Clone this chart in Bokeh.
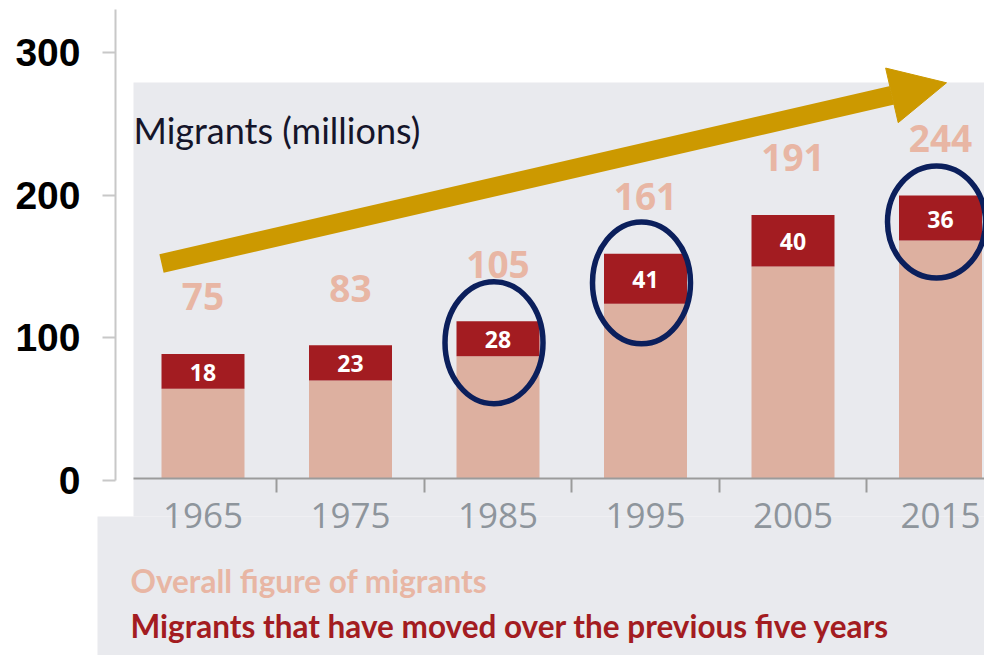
from bokeh.plotting import figure
from bokeh.models import (Range1d, LinearAxis, FixedTicker, Arrow, NormalHead,
                          Label, ColumnDataSource, Grid)
from bokeh.embed import file_html
from bokeh.resources import INLINE
from bokeh.core.properties import value

# ---------------- data ----------------
years = ["1965", "1975", "1985", "1995", "2005", "2015"]
overall_labels = [75, 83, 105, 161, 191, 244]
recent_labels = [18, 23, 28, 41, 40, 36]
# bar extents as drawn, read against the left axis
overall_bar_top = [64.3, 70.1, 87.2, 123.9, 150.1, 168.3]
recent_bar_top = [88.8, 94.9, 111.7, 159.0, 186.3, 199.9]
highlighted = ["1985", "1995", "2015"]
y_ticks = [0, 100, 200, 300]
unit_title = "Migrants (millions)"
legend_overall = "Overall figure of migrants"
legend_recent = "Migrants that have moved over the previous five years"

# ---------------- layout (pixels of the page) ----------------
W, H, PAGE = 984, 655, 0
CAT_PX, FIRST_CENTER_PX = 147.5, 202.5
Y0_PX, PX_PER_UNIT = 480.0, 1.4257


def xd(px):
    return (px - FIRST_CENTER_PX) / CAT_PX


def yd(px):
    return (Y0_PX - px) / PX_PER_UNIT


GREY_BG = "#e9eaee"
LIGHT = "#ddb0a0"
DARK = "#a31c21"
LABEL_PINK = "#e8b6a4"
NAVY = "#0b1f5c"
GOLD = "#cc9900"
YEAR_GREY = "#8e959c"

xs = list(range(len(years)))
base = yd(477.7)

p = figure(width=W, height=H, output_backend="svg", toolbar_location=None,
           x_range=Range1d(xd(PAGE), xd(PAGE + W)),
           y_range=Range1d(yd(PAGE + H), yd(PAGE)),
           x_axis_location=None, y_axis_location=None,
           min_border=0, outline_line_color=None,
           background_fill_color="white", border_fill_color="white")
p.center = [r for r in p.center if not isinstance(r, Grid)]

# grey panel of the inset chart
p.quad(left=[xd(133), xd(97)], right=[xd(1000), xd(1000)],
       top=[yd(82), yd(516)], bottom=[yd(516), yd(700)],
       fill_color=GREY_BG, line_color=None)

src = ColumnDataSource(dict(
    x=xs, year=years,
    light=overall_bar_top, dark=recent_bar_top,
    mid=[(a + b) / 2 for a, b in zip(overall_bar_top, recent_bar_top)],
    overall=[str(v) for v in overall_labels],
    recent=[str(v) for v in recent_labels],
))

bar_w = 83 / CAT_PX
p.vbar(x="x", bottom=base, top="light", width=bar_w, source=src,
       fill_color=LIGHT, line_color=None)
p.vbar(x="x", bottom="light", top="dark", width=bar_w, source=src,
       fill_color=DARK, line_color=None)

p.text(x="x", y="dark", text="overall", source=src, y_offset=-57,
       text_align="center", text_baseline="middle",
       text_font=value("Open Sans"), text_font_style="bold",
       text_font_size="37px", text_color=LABEL_PINK)
p.text(x="x", y="mid", text="recent", source=src, y_offset=1,
       text_align="center", text_baseline="middle",
       text_font=value("Open Sans"), text_font_style="bold",
       text_font_size="23px", text_color="white")

# highlight ellipses
hi = [years.index(y) for y in highlighted]
p.ellipse(x=[xs[i] - 4 / CAT_PX for i in hi],
          y=[(overall_bar_top[i] + recent_bar_top[i]) / 2 - 4 / PX_PER_UNIT for i in hi],
          width=98, height=[122, 122, 112],
          width_units="screen", height_units="screen",
          fill_color=None, line_color=NAVY, line_width=5.5)

# trend arrow
p.add_layout(Arrow(end=NormalHead(size=56, fill_color=GOLD, line_color=GOLD, line_width=1),
                   x_start=xd(161), y_start=yd(263), x_end=xd(946), y_end=yd(82.3),
                   line_color=GOLD, line_width=19))

# outer y axis
yaxis = LinearAxis(ticker=FixedTicker(ticks=y_ticks), fixed_location=xd(115),
                   bounds=(0, yd(9)),
                   axis_line_color="#c8c8c8", axis_line_width=2,
                   major_tick_line_color="#c8c8c8", major_tick_line_width=2,
                   major_tick_in=0, major_tick_out=13,
                   minor_tick_line_color=None,
                   major_label_text_font="Liberation Sans",
                   major_label_text_font_style="bold",
                   major_label_text_font_size="39px",
                   major_label_text_color="black",
                   major_label_standoff=22)
p.add_layout(yaxis, "left")

# inset x axis (labels at centres, ticks between categories)
xaxis = LinearAxis(ticker=FixedTicker(ticks=xs, minor_ticks=[i + 0.5 for i in xs[:-1]]),
                   fixed_location=base, bounds=(xd(133), xd(PAGE + W)),
                   major_label_overrides={i: y for i, y in zip(xs, years)},
                   axis_line_color="#9b9b9b", axis_line_width=2,
                   major_tick_line_color=None, major_tick_in=0, major_tick_out=0,
                   minor_tick_line_color="#9b9b9b", minor_tick_line_width=2,
                   minor_tick_in=0, minor_tick_out=14,
                   major_label_text_font="Open Sans",
                   major_label_text_font_size="35px",
                   major_label_text_color=YEAR_GREY,
                   major_label_standoff=11)
p.add_layout(xaxis, "below")

p.add_layout(Label(x=xd(133), y=yd(129.5), text=unit_title,
                   text_font="Lato", text_font_size="36px",
                   text_color="#15152a", text_baseline="alphabetic"))
p.add_layout(Label(x=xd(130), y=yd(580), text=legend_overall,
                   text_font="Lato", text_font_style="bold",
                   text_font_size="31.5px", text_color=LABEL_PINK,
                   text_baseline="alphabetic"))
p.add_layout(Label(x=xd(130), y=yd(625), text=legend_recent,
                   text_font="Lato", text_font_style="bold",
                   text_font_size="31.5px", text_color=DARK,
                   text_baseline="alphabetic"))

open("out.html", "w").write(file_html(p, INLINE))
